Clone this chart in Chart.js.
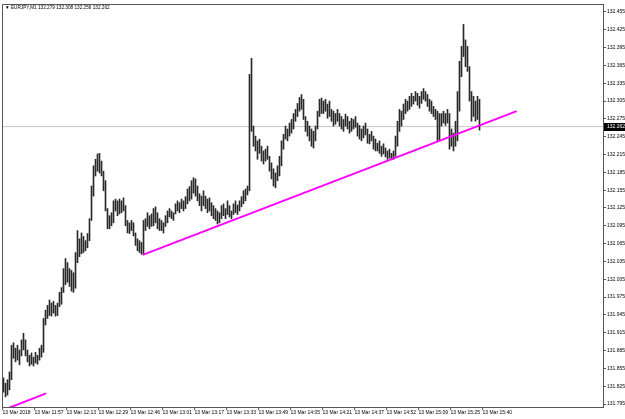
<!DOCTYPE html>
<html><head><meta charset="utf-8">
<script src="https://cdn.jsdelivr.net/npm/chart.js@4/dist/chart.umd.min.js"></script>
<style>html,body{margin:0;padding:0;background:#fff;overflow:hidden}</style>
</head><body>
<canvas id="c" width="625" height="419"></canvas>
<script>
const symbol = "EURJPY,M1";
const lastOHLC = [132.279, 132.308, 132.256, 132.262];
const lastPrice = 132.262;

const highs = [
131.839,131.830,131.836,131.849,131.894,131.898,131.889,131.894,131.886,131.903,
131.914,131.903,131.886,131.877,131.881,131.874,131.882,131.877,131.889,131.894,
131.939,131.953,131.961,131.970,131.965,131.968,131.961,131.965,131.983,131.991,
132.023,132.040,132.033,132.023,132.020,132.016,132.050,132.087,132.073,132.083,
132.077,132.070,132.082,132.107,132.162,132.196,132.207,132.216,132.217,132.204,
132.187,132.171,132.124,132.112,132.117,132.137,132.140,132.137,132.140,132.137,
132.142,132.129,132.104,132.100,132.104,132.100,132.083,132.073,132.070,132.067,
132.104,132.107,132.117,132.112,132.115,132.124,132.127,132.117,132.107,132.104,
132.100,132.112,132.120,132.124,132.120,132.117,132.132,132.137,132.134,132.140,
132.137,132.144,132.157,132.161,132.171,132.176,132.174,132.162,132.149,132.145,
132.154,132.145,132.140,132.142,132.134,132.129,132.124,132.120,132.117,132.129,
132.132,132.124,132.137,132.129,132.120,132.132,132.137,132.130,132.137,132.144,
132.154,132.157,132.162,132.350,132.377,132.263,132.246,132.238,132.241,132.229,
132.221,132.224,132.229,132.212,132.201,132.191,132.184,132.196,132.212,132.238,
132.249,132.263,132.258,132.268,132.274,132.284,132.291,132.301,132.311,132.316,
132.308,132.279,132.271,132.263,132.258,132.254,132.263,132.288,132.308,132.310,
132.305,132.308,132.300,132.305,132.291,132.288,132.284,132.291,132.284,132.279,
132.274,132.283,132.279,132.271,132.276,132.274,132.279,132.268,132.264,132.258,
132.263,132.268,132.258,132.249,132.254,132.246,132.241,132.234,132.238,132.229,
132.233,132.226,132.221,132.224,132.217,132.221,132.246,132.271,132.291,132.288,
132.300,132.308,132.305,132.313,132.318,132.313,132.321,132.318,132.313,132.321,
132.326,132.321,132.316,132.308,132.305,132.296,132.291,132.288,132.284,132.284,
132.288,132.284,132.291,132.284,132.258,132.251,132.271,132.321,132.372,132.397,
132.434,132.408,132.397,132.363,132.321,132.313,132.305,132.313,132.308
];
const lows = [
131.815,131.807,131.810,131.819,131.836,131.872,131.866,131.869,131.861,131.876,
131.886,131.876,131.866,131.859,131.862,131.859,131.864,131.862,131.869,131.874,
131.882,131.928,131.939,131.944,131.943,131.948,131.943,131.944,131.959,131.963,
131.983,131.996,132.000,131.993,131.985,131.983,131.990,132.033,132.043,132.048,
132.050,132.053,132.058,132.070,132.104,132.145,132.179,132.187,132.184,132.179,
132.154,132.120,132.090,132.090,132.095,132.100,132.120,132.112,132.115,132.117,
132.120,132.095,132.083,132.082,132.087,132.078,132.062,132.053,132.050,132.047,
132.048,132.087,132.094,132.090,132.094,132.095,132.100,132.090,132.087,132.087,
132.083,132.094,132.100,132.110,132.107,132.104,132.115,132.120,132.117,132.124,
132.120,132.124,132.132,132.137,132.140,132.150,132.145,132.137,132.129,132.120,
132.129,132.124,132.117,132.120,132.112,132.107,132.104,132.098,132.100,132.107,
132.112,132.107,132.114,132.110,132.107,132.114,132.117,132.114,132.120,132.127,
132.132,132.137,132.147,132.154,132.254,132.229,132.221,132.207,132.217,132.204,
132.199,132.204,132.207,132.187,132.174,132.162,132.159,132.171,132.179,132.196,
132.224,132.241,132.238,132.246,132.251,132.258,132.271,132.279,132.288,132.291,
132.274,132.254,132.246,132.238,132.229,132.226,132.238,132.258,132.279,132.284,
132.284,132.288,132.276,132.279,132.271,132.263,132.266,132.271,132.263,132.258,
132.254,132.263,132.258,132.251,132.254,132.258,132.261,132.246,132.241,132.238,
132.243,132.248,132.234,132.233,132.238,132.224,132.221,132.221,132.217,132.212,
132.216,132.211,132.207,132.209,132.207,132.207,132.212,132.229,132.254,132.263,
132.274,132.284,132.288,132.291,132.296,132.300,132.305,132.298,132.293,132.301,
132.308,132.305,132.296,132.288,132.284,132.279,132.274,132.238,132.238,132.263,
132.268,132.264,132.268,132.224,132.229,132.221,132.229,132.238,132.288,132.346,
132.380,132.363,132.355,132.305,132.271,132.279,132.271,132.274,132.256
];

const timeLabels = ["13 Mar 2018","13 Mar 11:57","13 Mar 12:13","13 Mar 12:29","13 Mar 12:46",
  "13 Mar 13:01","13 Mar 13:17","13 Mar 13:33","13 Mar 13:49","13 Mar 14:05","13 Mar 14:21",
  "13 Mar 14:37","13 Mar 14:52","13 Mar 15:09","13 Mar 15:25","13 Mar 15:40"];
const timeLabelBars = [0,16,32,48,64,80,96,112,128,144,160,176,192,208,224,240];

const priceTicks = [131.795,131.825,131.855,131.885,131.915,131.945,131.975,132.005,132.035,
  132.065,132.095,132.125,132.155,132.185,132.215,132.245,132.275,132.305,132.335,132.365,
  132.395,132.425,132.455];

const trendUpperX = [69.6, 256.6];
const trendUpperY = [132.046, 132.288];
const trendLowerX = [0.8, 21.3];
const trendLowerY = [131.786, 131.813];

const FONT = "'Liberation Sans', 'DejaVu Sans', sans-serif";

const framePlugin = {
  id: 'frame',
  afterDraw(chart) {
    const ctx = chart.ctx, a = chart.chartArea;
    ctx.save();
    ctx.strokeStyle = '#555';
    ctx.lineWidth = 1;
    ctx.beginPath();
    ctx.moveTo(Math.round(a.left) + 0.5, Math.round(a.bottom));
    ctx.lineTo(Math.round(a.left) + 0.5, Math.round(a.top) + 0.5);
    ctx.lineTo(Math.round(a.right), Math.round(a.top) + 0.5);
    ctx.stroke();
    ctx.fillStyle = '#000';
    ctx.font = '4.7px ' + FONT;
    ctx.textBaseline = 'middle';
    ctx.textAlign = 'left';
    ctx.fillText('\u25BC ' + symbol + ' ' + lastOHLC.map(v => v.toFixed(3)).join(' '), a.left + 3, a.top + 4);
    ctx.font = '5px ' + FONT;
    const ys = chart.scales.y;
    const py = ys.getPixelForValue(lastPrice);
    ctx.fillStyle = '#000';
    ctx.fillRect(a.right + 1, Math.round(py) - 4, 21, 8);
    ctx.fillStyle = '#fff';
    ctx.fillText(lastPrice.toFixed(3), a.right + 4, Math.round(py));
    ctx.restore();
  }
};

new Chart(document.getElementById('c'), {
  type: 'bar',
  data: {
    datasets: [
      {
        type: 'line',
        data: [{x: -0.75, y: lastPrice}, {x: 299.75, y: lastPrice}],
        borderColor: '#c8c8c8', borderWidth: 1, pointRadius: 0, order: 3
      },
      {
        type: 'bar',
        data: highs.map((h, i) => ({x: i, y: [lows[i], h]})),
        backgroundColor: '#2a2a2a', borderWidth: 0, barThickness: 1, order: 2
      },
      {
        type: 'line',
        data: trendUpperX.map((x, i) => ({x: x, y: trendUpperY[i]})),
        borderColor: '#ff00ff', borderWidth: 2, pointRadius: 0, order: 1
      },
      {
        type: 'line',
        data: trendLowerX.map((x, i) => ({x: x, y: trendLowerY[i]})),
        borderColor: '#ff00ff', borderWidth: 2, pointRadius: 0, order: 1
      }
    ]
  },
  options: {
    responsive: false,
    animation: false,
    devicePixelRatio: 1,
    layout: {padding: {left: 2, top: 2, right: 0, bottom: 0}},
    plugins: {legend: {display: false}, tooltip: {enabled: false}},
    scales: {
      x: {
        type: 'linear', position: 'bottom', min: -0.75, max: 299.75, offset: false,
        afterBuildTicks: s => { s.ticks = timeLabelBars.map(b => ({value: b - 0.5})); },
        afterFit: s => { s.height = 12; },
        ticks: {
          callback: (v, i) => timeLabels[i], align: 'start', autoSkip: false,
          maxRotation: 0, minRotation: 0, padding: 0, color: '#000',
          font: {size: 5, family: FONT}
        },
        grid: {drawOnChartArea: false, tickLength: 3, color: '#555', offset: false},
        border: {display: true, color: '#555'}
      },
      y: {
        type: 'linear', position: 'right', min: 131.790, max: 132.4684,
        afterBuildTicks: s => { s.ticks = priceTicks.map(v => ({value: v})); },
        afterFit: s => { s.width = 22; },
        ticks: {
          callback: v => v.toFixed(3), autoSkip: false, padding: 1, color: '#000',
          font: {size: 5, family: FONT}
        },
        grid: {drawOnChartArea: false, tickLength: 3, color: '#555'},
        border: {display: true, color: '#555'}
      }
    }
  },
  plugins: [framePlugin]
});
</script>
</body></html>
